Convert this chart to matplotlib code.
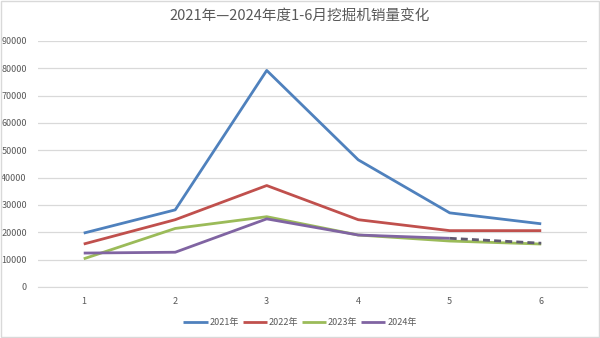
import matplotlib.pyplot as plt
from matplotlib.patches import Rectangle

plt.rcParams['font.family'] = ['Noto Sans CJK SC', 'DejaVu Sans']

months = [1, 2, 3, 4, 5, 6]
sales_2021 = [19700, 28200, 79200, 46500, 27100, 23100]
sales_2022 = [15700, 24600, 37100, 24600, 20600, 20600]
sales_2023 = [10300, 21400, 25700, 19000, 16800, 15700]
sales_2024 = [12400, 12700, 24900, 19000, 17800]
forecast_2024 = [17800, 16000]

series = [
    ("2021年", sales_2021, "#4F81BD"),
    ("2022年", sales_2022, "#C0504D"),
    ("2023年", sales_2023, "#9BBB59"),
    ("2024年", sales_2024, "#8064A2"),
]

text_color = "#595959"

fig = plt.figure(figsize=(6, 3.38), dpi=100)
ax = fig.add_axes([0.0633, 0.151, 0.915, 0.728])

for label, values, color in series:
    ax.plot(months[:len(values)], values, color=color, lw=2, label=label,
            solid_capstyle="butt")
ax.plot(months[4:], forecast_2024, color="#5F5A70", lw=2, ls=(0, (2.5, 1.5)))

ax.set_xlim(0.5, 6.5)
ax.set_ylim(0, 90000)
ax.set_yticks(range(0, 90001, 10000))
ax.set_xticks(months)
ax.yaxis.grid(True, color="#D9D9D9", lw=0.9)
ax.set_axisbelow(True)
for side in ["top", "right", "left"]:
    ax.spines[side].set_visible(False)
ax.spines["bottom"].set_color("#D9D9D9")
ax.tick_params(length=0, labelsize=6.5, colors=text_color)
ax.tick_params(axis="x", pad=7)
ax.tick_params(axis="y", pad=8)

fig.suptitle("2021年—2024年度1-6月挖掘机销量变化", y=0.975, fontsize=10.5,
             color=text_color)

leg = fig.legend(loc="center", bbox_to_anchor=(0.5, 0.045), ncol=4,
                 frameon=False, fontsize=6.5, handlelength=2.7,
                 columnspacing=0.4, handletextpad=0.2)
for t in leg.get_texts():
    t.set_color(text_color)

fig.patches.append(Rectangle((0.002, 0.003), 0.996, 0.994, transform=fig.transFigure,
                             fill=False, edgecolor="#D9D9D9", lw=1))

fig.savefig("out.png", dpi=100)
